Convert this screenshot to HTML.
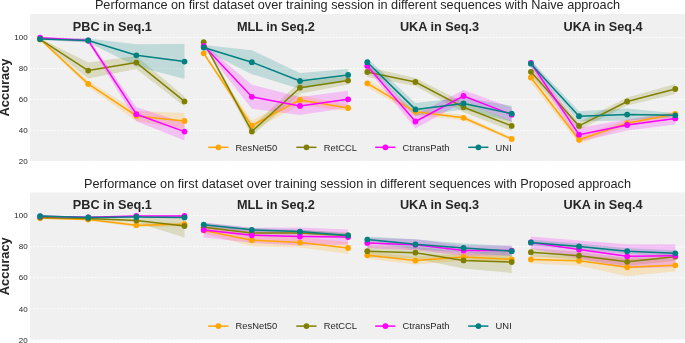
<!DOCTYPE html>
<html><head><meta charset="utf-8"><style>
html,body{margin:0;padding:0;background:#fff;width:685px;height:343px;overflow:hidden;font-family:"Liberation Sans", sans-serif;}
</style></head><body>
<svg width="685" height="343" viewBox="0 0 685 343" style="display:block;will-change:transform">
<rect x="0" y="0" width="685" height="343" fill="#fff"/>
<rect x="30" y="14" width="655" height="147" fill="#F0F0F0"/>
<line x1="30" x2="685" y1="37.5" y2="37.5" stroke="#fff" stroke-width="0.9" stroke-dasharray="2,1.4"/>
<line x1="30" x2="685" y1="68.5" y2="68.5" stroke="#fff" stroke-width="0.9" stroke-dasharray="2,1.4"/>
<line x1="30" x2="685" y1="99.4" y2="99.4" stroke="#fff" stroke-width="0.9" stroke-dasharray="2,1.4"/>
<line x1="30" x2="685" y1="130.4" y2="130.4" stroke="#fff" stroke-width="0.9" stroke-dasharray="2,1.4"/>
<line x1="30" x2="685" y1="161.3" y2="161.3" stroke="#fff" stroke-width="0.9" stroke-dasharray="2,1.4"/>
<text x="27.6" y="40.20" font-size="8" text-anchor="end" fill="#262626" font-family='"Liberation Sans", sans-serif'>100</text>
<text x="27.6" y="71.20" font-size="8" text-anchor="end" fill="#262626" font-family='"Liberation Sans", sans-serif'>80</text>
<text x="27.6" y="102.10" font-size="8" text-anchor="end" fill="#262626" font-family='"Liberation Sans", sans-serif'>60</text>
<text x="27.6" y="133.10" font-size="8" text-anchor="end" fill="#262626" font-family='"Liberation Sans", sans-serif'>40</text>
<text x="27.6" y="164.00" font-size="8" text-anchor="end" fill="#262626" font-family='"Liberation Sans", sans-serif'>20</text>
<text x="357.5" y="9.1" font-size="12.7" text-anchor="middle" fill="#262626" font-family='"Liberation Sans", sans-serif'>Performance on first dataset over training session in different sequences with Naive approach</text>
<text transform="translate(9.3,87.50) rotate(-90)" font-size="12.9" font-weight="bold" text-anchor="middle" fill="#262626" font-family='"Liberation Sans", sans-serif'>Accuracy</text>
<path d="M40.10,38.30 L88.23,80.90 L136.36,110.90 L184.49,113.00 L184.49,129.00 L136.36,120.90 L88.23,86.90 L40.10,40.30Z" fill="#FFA500" fill-opacity="0.2"/>
<path d="M40.10,38.30 L88.23,62.60 L136.36,56.10 L184.49,96.40 L184.49,106.40 L136.36,69.10 L88.23,78.60 L40.10,40.30Z" fill="#808000" fill-opacity="0.2"/>
<path d="M40.10,36.70 L88.23,38.50 L136.36,107.20 L184.49,122.60 L184.49,140.60 L136.36,121.20 L88.23,42.50 L40.10,38.70Z" fill="#FF00FF" fill-opacity="0.2"/>
<path d="M40.10,37.90 L88.23,38.50 L136.36,44.30 L184.49,44.10 L184.49,79.10 L136.36,66.30 L88.23,42.50 L40.10,39.90Z" fill="#008080" fill-opacity="0.2"/>
<path d="M40.10,39.30 L88.23,83.90 L136.36,115.90 L184.49,121.00" fill="none" stroke="#FFA500" stroke-width="1.5" stroke-linejoin="round"/>
<circle cx="40.10" cy="39.30" r="2.9" fill="#FFA500"/>
<circle cx="88.23" cy="83.90" r="2.9" fill="#FFA500"/>
<circle cx="136.36" cy="115.90" r="2.9" fill="#FFA500"/>
<circle cx="184.49" cy="121.00" r="2.9" fill="#FFA500"/>
<path d="M40.10,39.30 L88.23,70.60 L136.36,62.60 L184.49,101.40" fill="none" stroke="#808000" stroke-width="1.5" stroke-linejoin="round"/>
<circle cx="40.10" cy="39.30" r="2.9" fill="#808000"/>
<circle cx="88.23" cy="70.60" r="2.9" fill="#808000"/>
<circle cx="136.36" cy="62.60" r="2.9" fill="#808000"/>
<circle cx="184.49" cy="101.40" r="2.9" fill="#808000"/>
<path d="M40.10,37.70 L88.23,40.50 L136.36,114.20 L184.49,131.60" fill="none" stroke="#FF00FF" stroke-width="1.5" stroke-linejoin="round"/>
<circle cx="40.10" cy="37.70" r="2.9" fill="#FF00FF"/>
<circle cx="88.23" cy="40.50" r="2.9" fill="#FF00FF"/>
<circle cx="136.36" cy="114.20" r="2.9" fill="#FF00FF"/>
<circle cx="184.49" cy="131.60" r="2.9" fill="#FF00FF"/>
<path d="M40.10,38.90 L88.23,40.50 L136.36,55.30 L184.49,61.60" fill="none" stroke="#008080" stroke-width="1.5" stroke-linejoin="round"/>
<circle cx="40.10" cy="38.90" r="2.9" fill="#008080"/>
<circle cx="88.23" cy="40.50" r="2.9" fill="#008080"/>
<circle cx="136.36" cy="55.30" r="2.9" fill="#008080"/>
<circle cx="184.49" cy="61.60" r="2.9" fill="#008080"/>
<text x="112.30" y="30.9" font-size="12.7" font-weight="bold" text-anchor="middle" fill="#262626" font-family='"Liberation Sans", sans-serif'>PBC in Seq.1</text>
<path d="M203.70,51.80 L251.83,120.60 L299.96,94.90 L348.09,105.00 L348.09,111.00 L299.96,104.90 L251.83,130.60 L203.70,54.80Z" fill="#FFA500" fill-opacity="0.2"/>
<path d="M203.70,41.20 L251.83,126.90 L299.96,81.70 L348.09,76.60 L348.09,84.60 L299.96,93.70 L251.83,135.90 L203.70,43.20Z" fill="#808000" fill-opacity="0.2"/>
<path d="M203.70,43.80 L251.83,84.80 L299.96,96.90 L348.09,90.80 L348.09,107.80 L299.96,114.90 L251.83,108.80 L203.70,47.80Z" fill="#FF00FF" fill-opacity="0.2"/>
<path d="M203.70,45.00 L251.83,50.20 L299.96,73.00 L348.09,68.90 L348.09,80.90 L299.96,89.00 L251.83,74.20 L203.70,50.00Z" fill="#008080" fill-opacity="0.2"/>
<path d="M203.70,53.30 L251.83,125.60 L299.96,99.90 L348.09,108.00" fill="none" stroke="#FFA500" stroke-width="1.5" stroke-linejoin="round"/>
<circle cx="203.70" cy="53.30" r="2.9" fill="#FFA500"/>
<circle cx="251.83" cy="125.60" r="2.9" fill="#FFA500"/>
<circle cx="299.96" cy="99.90" r="2.9" fill="#FFA500"/>
<circle cx="348.09" cy="108.00" r="2.9" fill="#FFA500"/>
<path d="M203.70,42.20 L251.83,131.40 L299.96,87.70 L348.09,80.60" fill="none" stroke="#808000" stroke-width="1.5" stroke-linejoin="round"/>
<circle cx="203.70" cy="42.20" r="2.9" fill="#808000"/>
<circle cx="251.83" cy="131.40" r="2.9" fill="#808000"/>
<circle cx="299.96" cy="87.70" r="2.9" fill="#808000"/>
<circle cx="348.09" cy="80.60" r="2.9" fill="#808000"/>
<path d="M203.70,45.80 L251.83,96.80 L299.96,105.90 L348.09,99.30" fill="none" stroke="#FF00FF" stroke-width="1.5" stroke-linejoin="round"/>
<circle cx="203.70" cy="45.80" r="2.9" fill="#FF00FF"/>
<circle cx="251.83" cy="96.80" r="2.9" fill="#FF00FF"/>
<circle cx="299.96" cy="105.90" r="2.9" fill="#FF00FF"/>
<circle cx="348.09" cy="99.30" r="2.9" fill="#FF00FF"/>
<path d="M203.70,47.50 L251.83,62.20 L299.96,81.00 L348.09,74.90" fill="none" stroke="#008080" stroke-width="1.5" stroke-linejoin="round"/>
<circle cx="203.70" cy="47.50" r="2.9" fill="#008080"/>
<circle cx="251.83" cy="62.20" r="2.9" fill="#008080"/>
<circle cx="299.96" cy="81.00" r="2.9" fill="#008080"/>
<circle cx="348.09" cy="74.90" r="2.9" fill="#008080"/>
<text x="275.89" y="30.9" font-size="12.7" font-weight="bold" text-anchor="middle" fill="#262626" font-family='"Liberation Sans", sans-serif'>MLL in Seq.2</text>
<path d="M367.30,79.30 L415.43,108.30 L463.56,115.30 L511.69,137.20 L511.69,140.80 L463.56,120.30 L415.43,115.30 L367.30,87.30Z" fill="#FFA500" fill-opacity="0.2"/>
<path d="M367.30,67.00 L415.43,78.00 L463.56,102.30 L511.69,120.90 L511.69,130.90 L463.56,112.30 L415.43,86.00 L367.30,77.00Z" fill="#808000" fill-opacity="0.2"/>
<path d="M367.30,62.90 L415.43,114.50 L463.56,90.00 L511.69,107.70 L511.69,121.70 L463.56,102.00 L415.43,128.50 L367.30,68.90Z" fill="#FF00FF" fill-opacity="0.2"/>
<path d="M367.30,58.20 L415.43,102.90 L463.56,97.50 L511.69,105.70 L511.69,121.70 L463.56,109.50 L415.43,115.90 L367.30,66.20Z" fill="#008080" fill-opacity="0.2"/>
<path d="M367.30,83.30 L415.43,111.80 L463.56,117.80 L511.69,139.00" fill="none" stroke="#FFA500" stroke-width="1.5" stroke-linejoin="round"/>
<circle cx="367.30" cy="83.30" r="2.9" fill="#FFA500"/>
<circle cx="415.43" cy="111.80" r="2.9" fill="#FFA500"/>
<circle cx="463.56" cy="117.80" r="2.9" fill="#FFA500"/>
<circle cx="511.69" cy="139.00" r="2.9" fill="#FFA500"/>
<path d="M367.30,72.00 L415.43,82.00 L463.56,107.30 L511.69,125.90" fill="none" stroke="#808000" stroke-width="1.5" stroke-linejoin="round"/>
<circle cx="367.30" cy="72.00" r="2.9" fill="#808000"/>
<circle cx="415.43" cy="82.00" r="2.9" fill="#808000"/>
<circle cx="463.56" cy="107.30" r="2.9" fill="#808000"/>
<circle cx="511.69" cy="125.90" r="2.9" fill="#808000"/>
<path d="M367.30,65.90 L415.43,121.50 L463.56,96.00 L511.69,114.70" fill="none" stroke="#FF00FF" stroke-width="1.5" stroke-linejoin="round"/>
<circle cx="367.30" cy="65.90" r="2.9" fill="#FF00FF"/>
<circle cx="415.43" cy="121.50" r="2.9" fill="#FF00FF"/>
<circle cx="463.56" cy="96.00" r="2.9" fill="#FF00FF"/>
<circle cx="511.69" cy="114.70" r="2.9" fill="#FF00FF"/>
<path d="M367.30,62.20 L415.43,109.40 L463.56,103.50 L511.69,113.70" fill="none" stroke="#008080" stroke-width="1.5" stroke-linejoin="round"/>
<circle cx="367.30" cy="62.20" r="2.9" fill="#008080"/>
<circle cx="415.43" cy="109.40" r="2.9" fill="#008080"/>
<circle cx="463.56" cy="103.50" r="2.9" fill="#008080"/>
<circle cx="511.69" cy="113.70" r="2.9" fill="#008080"/>
<text x="439.50" y="30.9" font-size="12.7" font-weight="bold" text-anchor="middle" fill="#262626" font-family='"Liberation Sans", sans-serif'>UKA in Seq.3</text>
<path d="M530.90,72.50 L579.03,135.80 L627.16,120.20 L675.29,110.90 L675.29,116.90 L627.16,126.20 L579.03,143.80 L530.90,82.50Z" fill="#FFA500" fill-opacity="0.2"/>
<path d="M530.90,67.80 L579.03,121.90 L627.16,97.50 L675.29,84.00 L675.29,94.00 L627.16,105.50 L579.03,129.90 L530.90,75.80Z" fill="#808000" fill-opacity="0.2"/>
<path d="M530.90,59.00 L579.03,127.70 L627.16,119.50 L675.29,112.40 L675.29,124.40 L627.16,130.50 L579.03,141.70 L530.90,67.00Z" fill="#FF00FF" fill-opacity="0.2"/>
<path d="M530.90,60.20 L579.03,111.20 L627.16,108.60 L675.29,113.30 L675.29,117.30 L627.16,120.60 L579.03,121.20 L530.90,67.20Z" fill="#008080" fill-opacity="0.2"/>
<path d="M530.90,77.50 L579.03,139.80 L627.16,123.20 L675.29,113.90" fill="none" stroke="#FFA500" stroke-width="1.5" stroke-linejoin="round"/>
<circle cx="530.90" cy="77.50" r="2.9" fill="#FFA500"/>
<circle cx="579.03" cy="139.80" r="2.9" fill="#FFA500"/>
<circle cx="627.16" cy="123.20" r="2.9" fill="#FFA500"/>
<circle cx="675.29" cy="113.90" r="2.9" fill="#FFA500"/>
<path d="M530.90,71.80 L579.03,125.90 L627.16,101.50 L675.29,89.00" fill="none" stroke="#808000" stroke-width="1.5" stroke-linejoin="round"/>
<circle cx="530.90" cy="71.80" r="2.9" fill="#808000"/>
<circle cx="579.03" cy="125.90" r="2.9" fill="#808000"/>
<circle cx="627.16" cy="101.50" r="2.9" fill="#808000"/>
<circle cx="675.29" cy="89.00" r="2.9" fill="#808000"/>
<path d="M530.90,63.00 L579.03,134.70 L627.16,125.00 L675.29,118.40" fill="none" stroke="#FF00FF" stroke-width="1.5" stroke-linejoin="round"/>
<circle cx="530.90" cy="63.00" r="2.9" fill="#FF00FF"/>
<circle cx="579.03" cy="134.70" r="2.9" fill="#FF00FF"/>
<circle cx="627.16" cy="125.00" r="2.9" fill="#FF00FF"/>
<circle cx="675.29" cy="118.40" r="2.9" fill="#FF00FF"/>
<path d="M530.90,63.70 L579.03,116.20 L627.16,114.60 L675.29,115.30" fill="none" stroke="#008080" stroke-width="1.5" stroke-linejoin="round"/>
<circle cx="530.90" cy="63.70" r="2.9" fill="#008080"/>
<circle cx="579.03" cy="116.20" r="2.9" fill="#008080"/>
<circle cx="627.16" cy="114.60" r="2.9" fill="#008080"/>
<circle cx="675.29" cy="115.30" r="2.9" fill="#008080"/>
<text x="603.10" y="30.9" font-size="12.7" font-weight="bold" text-anchor="middle" fill="#262626" font-family='"Liberation Sans", sans-serif'>UKA in Seq.4</text>
<line x1="208.2" x2="228.39999999999998" y1="147.3" y2="147.3" stroke="#FFA500" stroke-width="1.5"/>
<circle cx="218.39999999999998" cy="147.3" r="2.9" fill="#FFA500"/>
<text x="235.6" y="150.60" font-size="9.4" fill="#262626" font-family='"Liberation Sans", sans-serif'>ResNet50</text>
<line x1="296.3" x2="316.5" y1="147.3" y2="147.3" stroke="#808000" stroke-width="1.5"/>
<circle cx="306.5" cy="147.3" r="2.9" fill="#808000"/>
<text x="323.7" y="150.60" font-size="9.4" fill="#262626" font-family='"Liberation Sans", sans-serif'>RetCCL</text>
<line x1="375.2" x2="395.4" y1="147.3" y2="147.3" stroke="#FF00FF" stroke-width="1.5"/>
<circle cx="385.4" cy="147.3" r="2.9" fill="#FF00FF"/>
<text x="402.59999999999997" y="150.60" font-size="9.4" fill="#262626" font-family='"Liberation Sans", sans-serif'>CtransPath</text>
<line x1="468.2" x2="488.4" y1="147.3" y2="147.3" stroke="#008080" stroke-width="1.5"/>
<circle cx="478.4" cy="147.3" r="2.9" fill="#008080"/>
<text x="495.59999999999997" y="150.60" font-size="9.4" fill="#262626" font-family='"Liberation Sans", sans-serif'>UNI</text>
<rect x="30" y="192.5" width="655" height="147.5" fill="#F0F0F0"/>
<line x1="30" x2="685" y1="215.7" y2="215.7" stroke="#fff" stroke-width="0.9" stroke-dasharray="2,1.4"/>
<line x1="30" x2="685" y1="246.7" y2="246.7" stroke="#fff" stroke-width="0.9" stroke-dasharray="2,1.4"/>
<line x1="30" x2="685" y1="277.7" y2="277.7" stroke="#fff" stroke-width="0.9" stroke-dasharray="2,1.4"/>
<line x1="30" x2="685" y1="308.8" y2="308.8" stroke="#fff" stroke-width="0.9" stroke-dasharray="2,1.4"/>
<line x1="30" x2="685" y1="339.8" y2="339.8" stroke="#fff" stroke-width="0.9" stroke-dasharray="2,1.4"/>
<text x="27.6" y="218.40" font-size="8" text-anchor="end" fill="#262626" font-family='"Liberation Sans", sans-serif'>100</text>
<text x="27.6" y="249.40" font-size="8" text-anchor="end" fill="#262626" font-family='"Liberation Sans", sans-serif'>80</text>
<text x="27.6" y="280.40" font-size="8" text-anchor="end" fill="#262626" font-family='"Liberation Sans", sans-serif'>60</text>
<text x="27.6" y="311.50" font-size="8" text-anchor="end" fill="#262626" font-family='"Liberation Sans", sans-serif'>40</text>
<text x="27.6" y="342.50" font-size="8" text-anchor="end" fill="#262626" font-family='"Liberation Sans", sans-serif'>20</text>
<text x="357.5" y="187.9" font-size="12.7" text-anchor="middle" fill="#262626" font-family='"Liberation Sans", sans-serif'>Performance on first dataset over training session in different sequences with Proposed approach</text>
<text transform="translate(9.3,266.25) rotate(-90)" font-size="12.9" font-weight="bold" text-anchor="middle" fill="#262626" font-family='"Liberation Sans", sans-serif'>Accuracy</text>
<path d="M40.10,217.00 L88.23,218.50 L136.36,223.20 L184.49,222.20 L184.49,226.20 L136.36,227.20 L88.23,220.50 L40.10,219.00Z" fill="#FFA500" fill-opacity="0.2"/>
<path d="M40.10,216.50 L88.23,217.50 L136.36,218.50 L184.49,214.50 L184.49,237.50 L136.36,222.50 L88.23,219.50 L40.10,218.50Z" fill="#808000" fill-opacity="0.2"/>
<path d="M40.10,215.80 L88.23,216.80 L136.36,215.50 L184.49,215.50 L184.49,216.50 L136.36,216.50 L88.23,217.80 L40.10,216.80Z" fill="#FF00FF" fill-opacity="0.2"/>
<path d="M40.10,215.60 L88.23,217.00 L136.36,216.50 L184.49,216.90 L184.49,217.90 L136.36,217.50 L88.23,218.00 L40.10,216.60Z" fill="#008080" fill-opacity="0.2"/>
<path d="M40.10,218.00 L88.23,219.50 L136.36,225.20 L184.49,224.20" fill="none" stroke="#FFA500" stroke-width="1.5" stroke-linejoin="round"/>
<circle cx="40.10" cy="218.00" r="2.9" fill="#FFA500"/>
<circle cx="88.23" cy="219.50" r="2.9" fill="#FFA500"/>
<circle cx="136.36" cy="225.20" r="2.9" fill="#FFA500"/>
<circle cx="184.49" cy="224.20" r="2.9" fill="#FFA500"/>
<path d="M40.10,217.50 L88.23,218.50 L136.36,220.50 L184.49,226.00" fill="none" stroke="#808000" stroke-width="1.5" stroke-linejoin="round"/>
<circle cx="40.10" cy="217.50" r="2.9" fill="#808000"/>
<circle cx="88.23" cy="218.50" r="2.9" fill="#808000"/>
<circle cx="136.36" cy="220.50" r="2.9" fill="#808000"/>
<circle cx="184.49" cy="226.00" r="2.9" fill="#808000"/>
<path d="M40.10,216.30 L88.23,217.30 L136.36,216.00 L184.49,216.00" fill="none" stroke="#FF00FF" stroke-width="1.5" stroke-linejoin="round"/>
<circle cx="40.10" cy="216.30" r="2.9" fill="#FF00FF"/>
<circle cx="88.23" cy="217.30" r="2.9" fill="#FF00FF"/>
<circle cx="136.36" cy="216.00" r="2.9" fill="#FF00FF"/>
<circle cx="184.49" cy="216.00" r="2.9" fill="#FF00FF"/>
<path d="M40.10,216.10 L88.23,217.50 L136.36,217.00 L184.49,217.40" fill="none" stroke="#008080" stroke-width="1.5" stroke-linejoin="round"/>
<circle cx="40.10" cy="216.10" r="2.9" fill="#008080"/>
<circle cx="88.23" cy="217.50" r="2.9" fill="#008080"/>
<circle cx="136.36" cy="217.00" r="2.9" fill="#008080"/>
<circle cx="184.49" cy="217.40" r="2.9" fill="#008080"/>
<text x="112.30" y="209.3" font-size="12.7" font-weight="bold" text-anchor="middle" fill="#262626" font-family='"Liberation Sans", sans-serif'>PBC in Seq.1</text>
<path d="M203.70,227.40 L251.83,234.20 L299.96,237.60 L348.09,242.00 L348.09,254.00 L299.96,247.60 L251.83,246.20 L203.70,233.40Z" fill="#FFA500" fill-opacity="0.2"/>
<path d="M203.70,224.30 L251.83,229.90 L299.96,230.00 L348.09,232.50 L348.09,238.50 L299.96,236.00 L251.83,235.90 L203.70,230.30Z" fill="#808000" fill-opacity="0.2"/>
<path d="M203.70,222.50 L251.83,227.80 L299.96,227.50 L348.09,229.50 L348.09,244.50 L299.96,245.50 L251.83,242.80 L203.70,237.50Z" fill="#FF00FF" fill-opacity="0.2"/>
<path d="M203.70,222.70 L251.83,227.80 L299.96,229.60 L348.09,233.50 L348.09,237.50 L299.96,233.60 L251.83,231.80 L203.70,226.70Z" fill="#008080" fill-opacity="0.2"/>
<path d="M203.70,230.40 L251.83,240.20 L299.96,242.60 L348.09,248.00" fill="none" stroke="#FFA500" stroke-width="1.5" stroke-linejoin="round"/>
<circle cx="203.70" cy="230.40" r="2.9" fill="#FFA500"/>
<circle cx="251.83" cy="240.20" r="2.9" fill="#FFA500"/>
<circle cx="299.96" cy="242.60" r="2.9" fill="#FFA500"/>
<circle cx="348.09" cy="248.00" r="2.9" fill="#FFA500"/>
<path d="M203.70,227.30 L251.83,232.90 L299.96,233.00 L348.09,235.50" fill="none" stroke="#808000" stroke-width="1.5" stroke-linejoin="round"/>
<circle cx="203.70" cy="227.30" r="2.9" fill="#808000"/>
<circle cx="251.83" cy="232.90" r="2.9" fill="#808000"/>
<circle cx="299.96" cy="233.00" r="2.9" fill="#808000"/>
<circle cx="348.09" cy="235.50" r="2.9" fill="#808000"/>
<path d="M203.70,230.00 L251.83,235.30 L299.96,236.50 L348.09,237.00" fill="none" stroke="#FF00FF" stroke-width="1.5" stroke-linejoin="round"/>
<circle cx="203.70" cy="230.00" r="2.9" fill="#FF00FF"/>
<circle cx="251.83" cy="235.30" r="2.9" fill="#FF00FF"/>
<circle cx="299.96" cy="236.50" r="2.9" fill="#FF00FF"/>
<circle cx="348.09" cy="237.00" r="2.9" fill="#FF00FF"/>
<path d="M203.70,224.70 L251.83,229.80 L299.96,231.60 L348.09,235.50" fill="none" stroke="#008080" stroke-width="1.5" stroke-linejoin="round"/>
<circle cx="203.70" cy="224.70" r="2.9" fill="#008080"/>
<circle cx="251.83" cy="229.80" r="2.9" fill="#008080"/>
<circle cx="299.96" cy="231.60" r="2.9" fill="#008080"/>
<circle cx="348.09" cy="235.50" r="2.9" fill="#008080"/>
<text x="275.89" y="209.3" font-size="12.7" font-weight="bold" text-anchor="middle" fill="#262626" font-family='"Liberation Sans", sans-serif'>MLL in Seq.2</text>
<path d="M367.30,251.80 L415.43,256.60 L463.56,253.60 L511.69,255.90 L511.69,262.90 L463.56,260.60 L415.43,264.60 L367.30,258.80Z" fill="#FFA500" fill-opacity="0.2"/>
<path d="M367.30,245.20 L415.43,246.70 L463.56,252.40 L511.69,251.00 L511.69,273.00 L463.56,268.40 L415.43,258.70 L367.30,257.20Z" fill="#808000" fill-opacity="0.2"/>
<path d="M367.30,237.90 L415.43,239.30 L463.56,245.60 L511.69,245.60 L511.69,255.60 L463.56,255.60 L415.43,250.30 L367.30,247.90Z" fill="#FF00FF" fill-opacity="0.2"/>
<path d="M367.30,236.60 L415.43,239.30 L463.56,243.50 L511.69,246.20 L511.69,256.20 L463.56,252.50 L415.43,249.30 L367.30,242.60Z" fill="#008080" fill-opacity="0.2"/>
<path d="M367.30,255.30 L415.43,260.60 L463.56,257.10 L511.69,259.40" fill="none" stroke="#FFA500" stroke-width="1.5" stroke-linejoin="round"/>
<circle cx="367.30" cy="255.30" r="2.9" fill="#FFA500"/>
<circle cx="415.43" cy="260.60" r="2.9" fill="#FFA500"/>
<circle cx="463.56" cy="257.10" r="2.9" fill="#FFA500"/>
<circle cx="511.69" cy="259.40" r="2.9" fill="#FFA500"/>
<path d="M367.30,251.20 L415.43,252.70 L463.56,260.40 L511.69,262.00" fill="none" stroke="#808000" stroke-width="1.5" stroke-linejoin="round"/>
<circle cx="367.30" cy="251.20" r="2.9" fill="#808000"/>
<circle cx="415.43" cy="252.70" r="2.9" fill="#808000"/>
<circle cx="463.56" cy="260.40" r="2.9" fill="#808000"/>
<circle cx="511.69" cy="262.00" r="2.9" fill="#808000"/>
<path d="M367.30,242.90 L415.43,244.80 L463.56,250.60 L511.69,250.60" fill="none" stroke="#FF00FF" stroke-width="1.5" stroke-linejoin="round"/>
<circle cx="367.30" cy="242.90" r="2.9" fill="#FF00FF"/>
<circle cx="415.43" cy="244.80" r="2.9" fill="#FF00FF"/>
<circle cx="463.56" cy="250.60" r="2.9" fill="#FF00FF"/>
<circle cx="511.69" cy="250.60" r="2.9" fill="#FF00FF"/>
<path d="M367.30,239.60 L415.43,244.30 L463.56,248.00 L511.69,251.20" fill="none" stroke="#008080" stroke-width="1.5" stroke-linejoin="round"/>
<circle cx="367.30" cy="239.60" r="2.9" fill="#008080"/>
<circle cx="415.43" cy="244.30" r="2.9" fill="#008080"/>
<circle cx="463.56" cy="248.00" r="2.9" fill="#008080"/>
<circle cx="511.69" cy="251.20" r="2.9" fill="#008080"/>
<text x="439.50" y="209.3" font-size="12.7" font-weight="bold" text-anchor="middle" fill="#262626" font-family='"Liberation Sans", sans-serif'>UKA in Seq.3</text>
<path d="M530.90,255.40 L579.03,255.80 L627.16,258.30 L675.29,259.30 L675.29,271.30 L627.16,276.30 L579.03,265.80 L530.90,263.40Z" fill="#FFA500" fill-opacity="0.2"/>
<path d="M530.90,248.20 L579.03,251.70 L627.16,257.80 L675.29,252.70 L675.29,260.70 L627.16,265.80 L579.03,259.70 L530.90,256.20Z" fill="#808000" fill-opacity="0.2"/>
<path d="M530.90,236.40 L579.03,240.60 L627.16,244.30 L675.29,244.20 L675.29,267.20 L627.16,268.30 L579.03,258.60 L530.90,248.40Z" fill="#FF00FF" fill-opacity="0.2"/>
<path d="M530.90,239.40 L579.03,243.50 L627.16,248.20 L675.29,250.30 L675.29,256.30 L627.16,254.20 L579.03,249.50 L530.90,245.40Z" fill="#008080" fill-opacity="0.2"/>
<path d="M530.90,259.40 L579.03,260.80 L627.16,267.30 L675.29,265.30" fill="none" stroke="#FFA500" stroke-width="1.5" stroke-linejoin="round"/>
<circle cx="530.90" cy="259.40" r="2.9" fill="#FFA500"/>
<circle cx="579.03" cy="260.80" r="2.9" fill="#FFA500"/>
<circle cx="627.16" cy="267.30" r="2.9" fill="#FFA500"/>
<circle cx="675.29" cy="265.30" r="2.9" fill="#FFA500"/>
<path d="M530.90,252.20 L579.03,255.70 L627.16,261.80 L675.29,256.70" fill="none" stroke="#808000" stroke-width="1.5" stroke-linejoin="round"/>
<circle cx="530.90" cy="252.20" r="2.9" fill="#808000"/>
<circle cx="579.03" cy="255.70" r="2.9" fill="#808000"/>
<circle cx="627.16" cy="261.80" r="2.9" fill="#808000"/>
<circle cx="675.29" cy="256.70" r="2.9" fill="#808000"/>
<path d="M530.90,242.40 L579.03,249.60 L627.16,256.30 L675.29,255.70" fill="none" stroke="#FF00FF" stroke-width="1.5" stroke-linejoin="round"/>
<circle cx="530.90" cy="242.40" r="2.9" fill="#FF00FF"/>
<circle cx="579.03" cy="249.60" r="2.9" fill="#FF00FF"/>
<circle cx="627.16" cy="256.30" r="2.9" fill="#FF00FF"/>
<circle cx="675.29" cy="255.70" r="2.9" fill="#FF00FF"/>
<path d="M530.90,242.40 L579.03,246.50 L627.16,251.20 L675.29,253.30" fill="none" stroke="#008080" stroke-width="1.5" stroke-linejoin="round"/>
<circle cx="530.90" cy="242.40" r="2.9" fill="#008080"/>
<circle cx="579.03" cy="246.50" r="2.9" fill="#008080"/>
<circle cx="627.16" cy="251.20" r="2.9" fill="#008080"/>
<circle cx="675.29" cy="253.30" r="2.9" fill="#008080"/>
<text x="603.10" y="209.3" font-size="12.7" font-weight="bold" text-anchor="middle" fill="#262626" font-family='"Liberation Sans", sans-serif'>UKA in Seq.4</text>
<line x1="208.2" x2="228.39999999999998" y1="326.1" y2="326.1" stroke="#FFA500" stroke-width="1.5"/>
<circle cx="218.39999999999998" cy="326.1" r="2.9" fill="#FFA500"/>
<text x="235.6" y="329.40" font-size="9.4" fill="#262626" font-family='"Liberation Sans", sans-serif'>ResNet50</text>
<line x1="296.3" x2="316.5" y1="326.1" y2="326.1" stroke="#808000" stroke-width="1.5"/>
<circle cx="306.5" cy="326.1" r="2.9" fill="#808000"/>
<text x="323.7" y="329.40" font-size="9.4" fill="#262626" font-family='"Liberation Sans", sans-serif'>RetCCL</text>
<line x1="375.2" x2="395.4" y1="326.1" y2="326.1" stroke="#FF00FF" stroke-width="1.5"/>
<circle cx="385.4" cy="326.1" r="2.9" fill="#FF00FF"/>
<text x="402.59999999999997" y="329.40" font-size="9.4" fill="#262626" font-family='"Liberation Sans", sans-serif'>CtransPath</text>
<line x1="468.2" x2="488.4" y1="326.1" y2="326.1" stroke="#008080" stroke-width="1.5"/>
<circle cx="478.4" cy="326.1" r="2.9" fill="#008080"/>
<text x="495.59999999999997" y="329.40" font-size="9.4" fill="#262626" font-family='"Liberation Sans", sans-serif'>UNI</text>
</svg>
</body></html>
